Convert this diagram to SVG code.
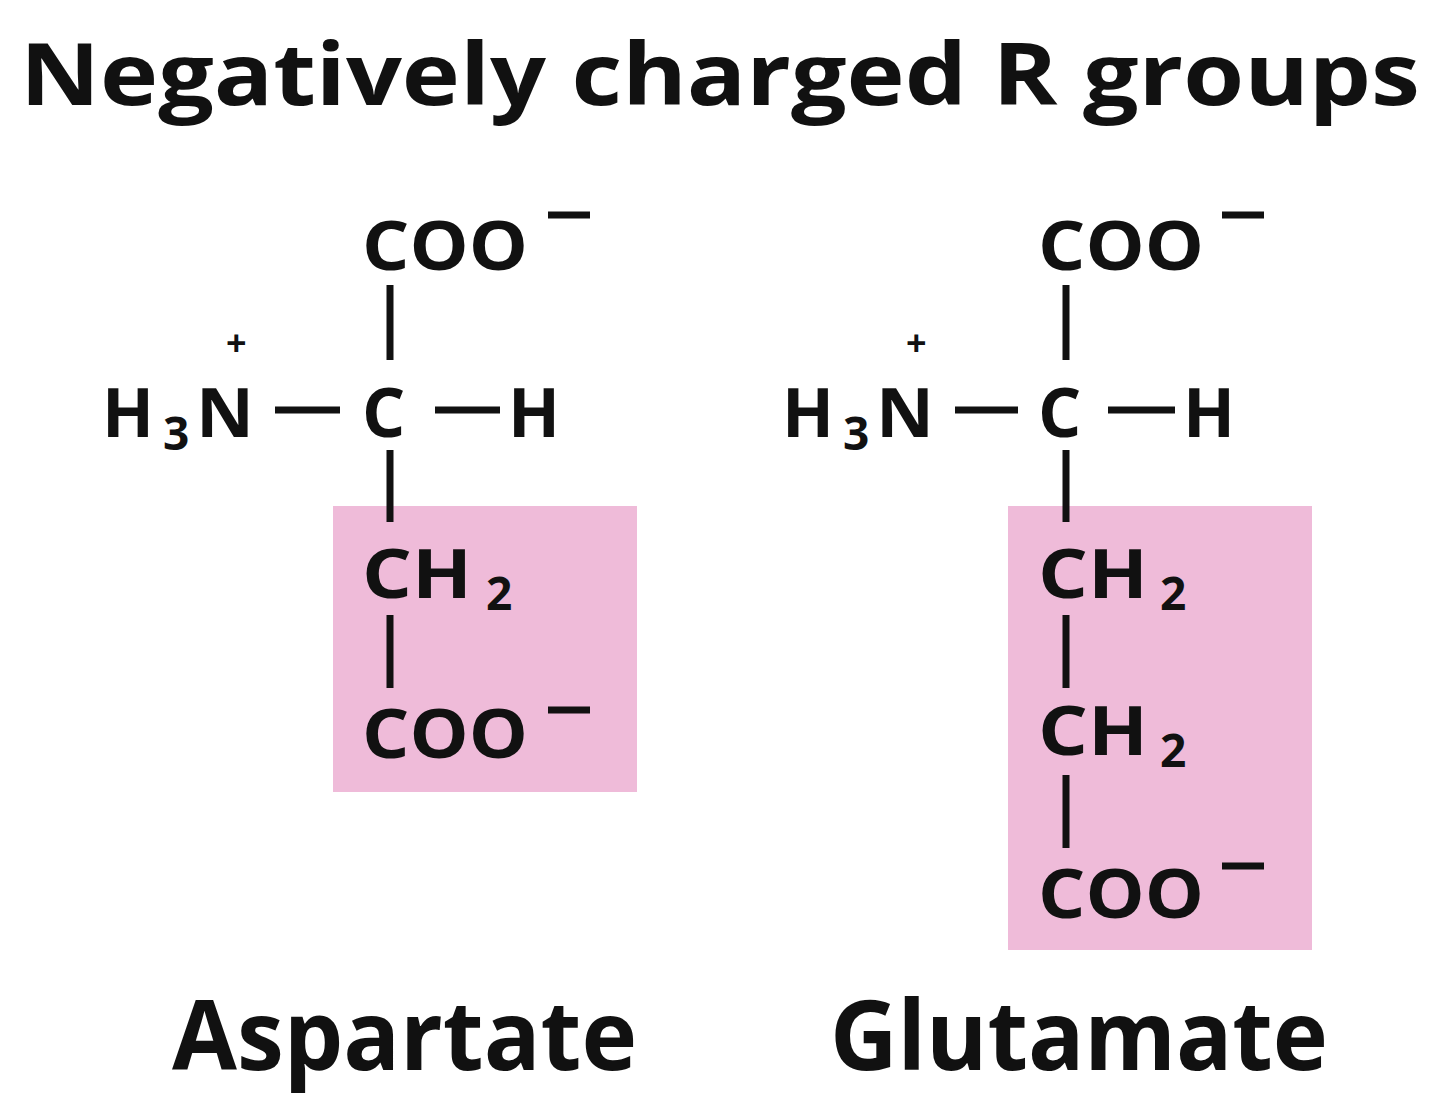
<svg xmlns="http://www.w3.org/2000/svg" width="1440" height="1105" viewBox="0 0 1440 1105">
<style>
text{font-family:"Open Sans","Liberation Sans",sans-serif;font-weight:bold;fill:#111}
.a{font-size:68px}.s{font-size:46px}.l{font-size:96px}.p{font-size:36px}
line{stroke:#111;stroke-width:7}
.r{fill:#efbbd9}
</style>
<rect width="1440" height="1105" fill="#fff"/>
<text x="20" y="105" font-size="86" textLength="1400" lengthAdjust="spacingAndGlyphs">Negatively charged R groups</text>
<g id="aspartate">
<rect class="r" x="333" y="506" width="304" height="286"/>
<text class="a" x="362" y="270" textLength="166" lengthAdjust="spacingAndGlyphs">COO</text>
<line x1="548" y1="215" x2="590" y2="215"/>
<line x1="390" y1="285" x2="390" y2="360"/>
<text class="a" x="102" y="437">H</text><text class="s" x="163" y="450">3</text><text class="a" x="196" y="437" textLength="58" lengthAdjust="spacingAndGlyphs">N</text>
<text class="p" x="226" y="356">+</text>
<line x1="275" y1="410" x2="340" y2="410"/>
<text class="a" x="362" y="437">C</text>
<line x1="435" y1="410" x2="500" y2="410"/>
<text class="a" x="508" y="437">H</text>
<line x1="390" y1="450" x2="390" y2="522"/>
<text class="a" x="362" y="598" textLength="110" lengthAdjust="spacingAndGlyphs">CH</text><text class="s" x="486" y="610">2</text>
<line x1="390" y1="615" x2="390" y2="688"/>
<text class="a" x="362" y="758" textLength="166" lengthAdjust="spacingAndGlyphs">COO</text>
<line x1="548" y1="710" x2="590" y2="710"/>
<text class="l" x="172" y="1070" textLength="465" lengthAdjust="spacingAndGlyphs">Aspartate</text>
</g>
<g id="glutamate">
<rect class="r" x="1008" y="506" width="304" height="444"/>
<text class="a" x="1038" y="270" textLength="166" lengthAdjust="spacingAndGlyphs">COO</text>
<line x1="1222" y1="215" x2="1264" y2="215"/>
<line x1="1066" y1="285" x2="1066" y2="360"/>
<text class="a" x="782" y="437">H</text><text class="s" x="843" y="450">3</text><text class="a" x="876" y="437" textLength="58" lengthAdjust="spacingAndGlyphs">N</text>
<text class="p" x="906" y="356">+</text>
<line x1="955" y1="410" x2="1018" y2="410"/>
<text class="a" x="1038" y="437">C</text>
<line x1="1108" y1="410" x2="1175" y2="410"/>
<text class="a" x="1183" y="437">H</text>
<line x1="1066" y1="450" x2="1066" y2="522"/>
<text class="a" x="1038" y="598" textLength="110" lengthAdjust="spacingAndGlyphs">CH</text><text class="s" x="1160" y="610">2</text>
<line x1="1066" y1="615" x2="1066" y2="688"/>
<text class="a" x="1038" y="755" textLength="110" lengthAdjust="spacingAndGlyphs">CH</text><text class="s" x="1160" y="767">2</text>
<line x1="1066" y1="775" x2="1066" y2="848"/>
<text class="a" x="1038" y="918" textLength="166" lengthAdjust="spacingAndGlyphs">COO</text>
<line x1="1222" y1="866" x2="1264" y2="866"/>
<text class="l" x="830" y="1070" textLength="498" lengthAdjust="spacingAndGlyphs">Glutamate</text>
</g>
</svg>
